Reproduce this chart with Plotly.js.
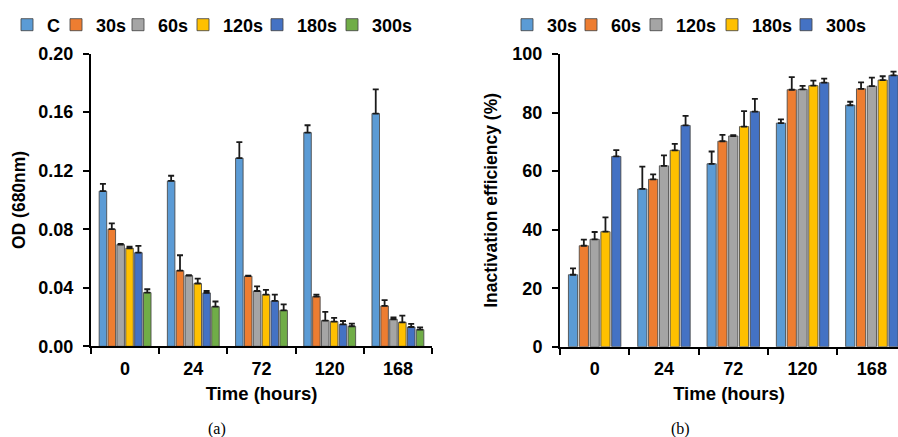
<!DOCTYPE html>
<html>
<head>
<meta charset="utf-8">
<script src="https://cdn.plot.ly/plotly-3.0.1.min.js"></script>
<style>html,body{margin:0;padding:0;background:#fff;}#chart{width:898px;height:437px;}</style>
</head>
<body>
<div id="chart"></div>
<script>
// ---- data ----
var timeLabels = ["0", "24", "72", "120", "168"];

// (a) OD (680nm)
var odNames = ["C", "30s", "60s", "120s", "180s", "300s"];
var odC    = [0.106, 0.113, 0.1285, 0.146, 0.159];
var od30   = [0.080, 0.0517, 0.0479, 0.034, 0.0276];
var od60   = [0.0695, 0.0483, 0.0378, 0.0176, 0.0185];
var od120  = [0.067, 0.0429, 0.0353, 0.0169, 0.0164];
var od180  = [0.064, 0.0365, 0.031, 0.015, 0.0132];
var od300  = [0.0367, 0.0271, 0.0246, 0.0137, 0.0114];
var odErrC   = [0.005, 0.0035, 0.011, 0.005, 0.0165];
var odErr30  = [0.004, 0.0105, 0.0004, 0.0013, 0.0039];
var odErr60  = [0.0005, 0.0003, 0.0032, 0.0059, 0.0013];
var odErr120 = [0.001, 0.0034, 0.0032, 0.0025, 0.0046];
var odErr180 = [0.0046, 0.0013, 0.0043, 0.0023, 0.0021];
var odErr300 = [0.0023, 0.0035, 0.0041, 0.0018, 0.0016];

// (b) Inactivation efficiency (%)
var ieNames = ["30s", "60s", "120s", "180s", "300s"];
var ie30  = [24.6, 53.9, 62.5, 76.4, 82.5];
var ie60  = [34.5, 57.2, 70.2, 87.8, 88.1];
var ie120 = [36.7, 61.8, 72.0, 87.9, 89.0];
var ie180 = [39.3, 67.1, 75.2, 89.2, 91.1];
var ie300 = [65.0, 75.6, 80.3, 90.2, 92.7];
var ieErr30  = [2.2, 7.6, 4.2, 1.3, 1.2];
var ieErr60  = [2.1, 1.7, 2.2, 4.3, 2.2];
var ieErr120 = [2.5, 3.6, 0.3, 1.2, 2.9];
var ieErr180 = [4.9, 2.2, 5.3, 1.7, 1.3];
var ieErr300 = [2.2, 3.3, 4.4, 1.4, 1.3];

// ---- styles / layout ----
var odColors = ["#5B9BD5", "#ED7D31", "#A5A5A5", "#FFC000", "#4472C4", "#70AD47"];
var ieColors = ["#5B9BD5", "#ED7D31", "#A5A5A5", "#FFC000", "#4472C4"];
var FONT = "Liberation Sans, Arial, Helvetica, sans-serif";
var W = 898, H = 437;
// left pixel position of each legend entry (one legend box per entry)
var odLegendPx = [7, 56, 118, 183, 257, 332];
var ieLegendPx = [507, 571, 636, 712, 786];

function barTrace(name, x, y, err, color, xa, ya, legendId) {
  return {
    type: "bar", name: name, x: x, y: y,
    xaxis: xa, yaxis: ya, legend: legendId,
    marker: {color: color, line: {color: "rgba(70,70,70,0.85)", width: 1}},
    error_y: {type: "data", symmetric: false, array: err, arrayminus: err.map(function(){return 0;}),
              color: "#1a1a1a", thickness: 1.8, width: 3}
  };
}

var odVals = [odC, od30, od60, od120, od180, od300];
var odErrs = [odErrC, odErr30, odErr60, odErr120, odErr180, odErr300];
var ieVals = [ie30, ie60, ie120, ie180, ie300];
var ieErrs = [ieErr30, ieErr60, ieErr120, ieErr180, ieErr300];

var legendCommon = {
  orientation: "h", font: {family: FONT, size: 18, color: "#000", weight: "bold"},
  yanchor: "middle", y: 1 - 25 / H, xanchor: "left",
  bgcolor: "rgba(0,0,0,0)", itemwidth: 30,
  itemclick: false, itemdoubleclick: false
};

var layout = {
  width: W, height: H,
  margin: {l: 0, r: 0, t: 0, b: 0},
  paper_bgcolor: "#fff", plot_bgcolor: "#fff",
  barmode: "group", bargap: 0.22, bargroupgap: 0.15,
  showlegend: true,
  annotations: [
    {text: "(a)", xref: "paper", yref: "paper", x: 217 / W, y: 1 - 429 / H, xanchor: "center", yanchor: "middle",
     showarrow: false, font: {family: "Liberation Serif, Times New Roman, serif", size: 16, color: "#000"}},
    {text: "(b)", xref: "paper", yref: "paper", x: 680 / W, y: 1 - 429 / H, xanchor: "center", yanchor: "middle",
     showarrow: false, font: {family: "Liberation Serif, Times New Roman, serif", size: 16, color: "#000"}}
  ]
};

var traces = [];
var legendCount = 0;
function nextLegend(px) {
  legendCount += 1;
  var id = legendCount === 1 ? "legend" : "legend" + legendCount;
  layout[id] = Object.assign({}, legendCommon, {x: px / W});
  return id;
}
odNames.forEach(function(n, i){
  traces.push(barTrace(n, timeLabels, odVals[i], odErrs[i], odColors[i], "x", "y", nextLegend(odLegendPx[i])));
});
ieNames.forEach(function(n, i){
  traces.push(barTrace(n, timeLabels, ieVals[i], ieErrs[i], ieColors[i], "x2", "y2", nextLegend(ieLegendPx[i])));
});

var tickFont = {family: FONT, size: 18, color: "#000", weight: "bold"};
var yTitleFont = {family: FONT, size: 17.5, color: "#000", weight: "bold"};
var xTitleFont = {family: FONT, size: 18.5, color: "#000", weight: "bold"};

function xAxis(domain, anchor, range) {
  return {
    domain: domain, anchor: anchor, type: "category", range: range,
    showline: true, linecolor: "#000", linewidth: 2,
    ticks: "outside", tickson: "boundaries", ticklen: 6, tickwidth: 2, tickcolor: "#000",
    tickfont: tickFont, ticklabelstandoff: 5, showgrid: false, zeroline: false,
    title: {text: "Time (hours)", font: xTitleFont, standoff: 9},
    automargin: false, fixedrange: true
  };
}
function yAxis(domain, anchor, range, dtick, fmt, title, standoff) {
  return {
    domain: domain, anchor: anchor, range: range, dtick: dtick, tick0: 0, tickformat: fmt,
    showline: true, linecolor: "#000", linewidth: 2,
    ticks: "outside", ticklen: 6, tickwidth: 2, tickcolor: "#000",
    tickfont: tickFont, ticklabelstandoff: 6, showgrid: false, zeroline: false,
    title: {text: title, font: yTitleFont, standoff: standoff},
    automargin: false, fixedrange: true
  };
}

layout.xaxis = xAxis([91 / W, 432 / W], "y", [-0.5, 4.5]);
layout.yaxis = yAxis([0.2075, 0.8775], "x", [0, 0.2], 0.04, ".2f", "OD (680nm)", 8);
layout.xaxis2 = xAxis([560 / W, 1.0], "y2", [-0.5, 4.377]);
layout.yaxis2 = yAxis([0.2065, 0.8764], "x2", [0, 100], 20, "d", "Inactivation efficiency (%)", 10);

Plotly.newPlot("chart", traces, layout, {displayModeBar: false, staticPlot: true});
</script>
</body>
</html>
